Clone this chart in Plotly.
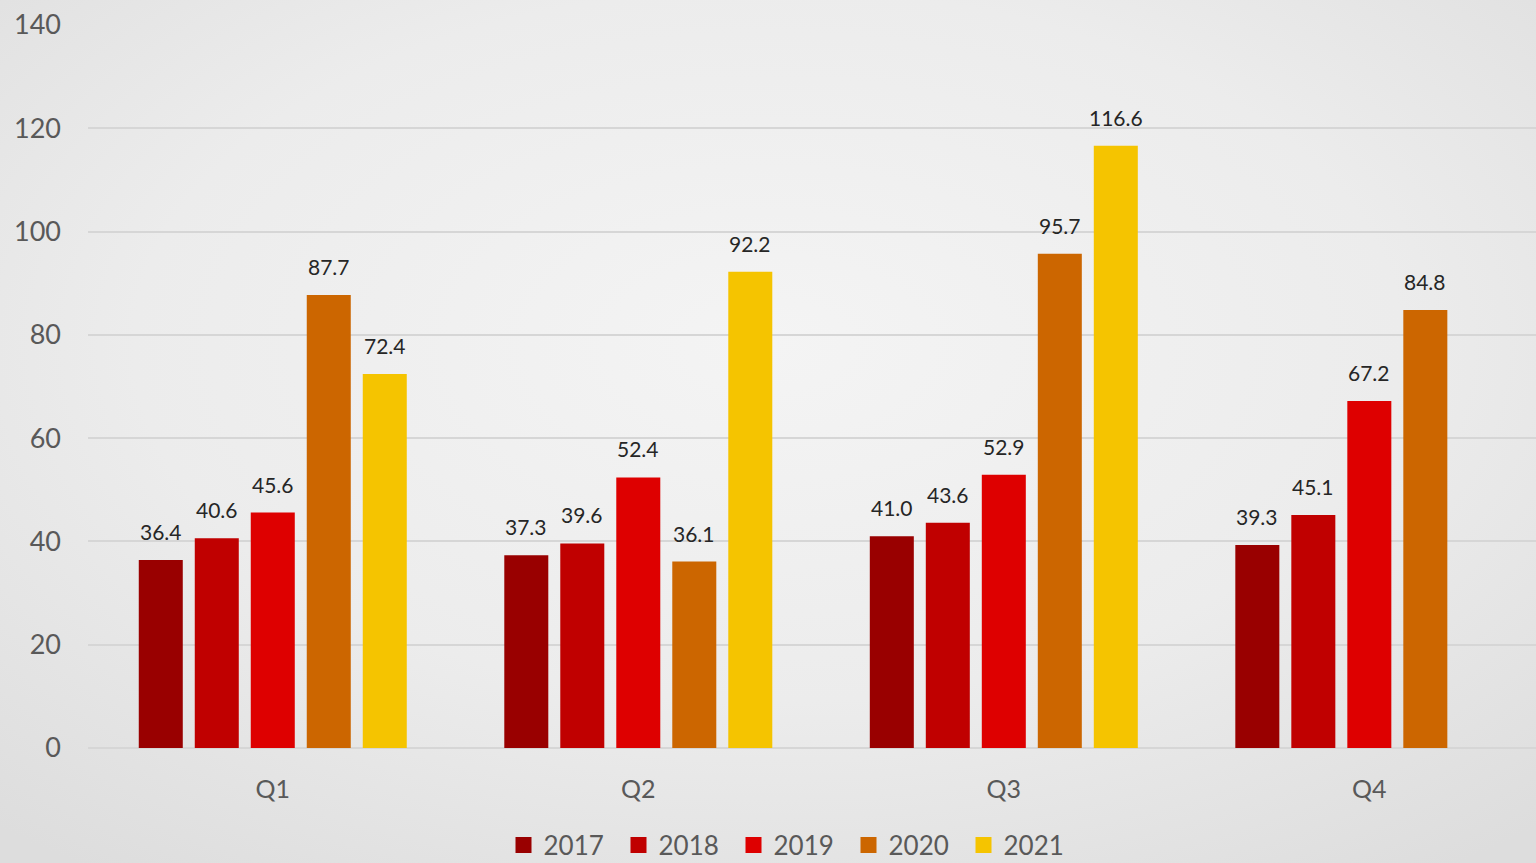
import base64
import plotly.graph_objects as go

# Quarterly values per year
quarters = ["Q1", "Q2", "Q3", "Q4"]
years = ["2017", "2018", "2019", "2020", "2021"]
v2017 = [36.4, 37.3, 41.0, 39.3]
v2018 = [40.6, 39.6, 43.6, 45.1]
v2019 = [45.6, 52.4, 52.9, 67.2]
v2020 = [87.7, 36.1, 95.7, 84.8]
v2021 = [72.4, 92.2, 116.6, None]
series = [v2017, v2018, v2019, v2020, v2021]
colors = ["#990000", "#C00000", "#DE0000", "#CC6600", "#F5C400"]
y_ticks = [0, 20, 40, 60, 80, 100, 120, 140]

W, H = 1536, 863
ML, MR, MT, MB = 88, 0, 25, 115
BARGAP = 0.234
BARGROUPGAP = 0.214
X_RANGE = [-0.5055, 3.456]

fig = go.Figure()

for name, vals, col in zip(years, series, colors):
    fig.add_trace(go.Bar(
        x=quarters, y=vals, name=name, marker=dict(color=col, line=dict(width=0)),
        showlegend=False, hoverinfo="x+y+name",
    ))
    # legend swatch
    fig.add_trace(go.Scatter(
        x=[None], y=[None], mode="markers", name=name,
        marker=dict(symbol="square", size=17, color=col),
    ))

# value labels above each bar, placed at the grouped-bar slot centres
n = len(series)
slot = (1 - BARGAP) / n
for i, vals in enumerate(series):
    offset = -(1 - BARGAP) / 2 + (i + 0.5) * slot
    for qi, v in enumerate(vals):
        if v is None:
            continue
        fig.add_annotation(
            x=qi + offset, y=v, xref="x", yref="y",
            text=f"{v:.1f}", showarrow=False,
            yanchor="bottom", yshift=14,
            font=dict(family="Lato", size=21, color="#262626"),
        )

# soft radial background
svg = (
    f'<svg xmlns="http://www.w3.org/2000/svg" width="{W}" height="{H}" '
    f'viewBox="0 0 {W} {H}" preserveAspectRatio="none">'
    '<defs><radialGradient id="g" cx="50%" cy="40%" r="75%">'
    '<stop offset="0%" stop-color="#F4F4F4"/>'
    '<stop offset="55%" stop-color="#ECECEC"/>'
    '<stop offset="100%" stop-color="#DDDDDD"/>'
    '</radialGradient></defs>'
    f'<rect width="{W}" height="{H}" fill="url(#g)"/></svg>'
)
bg_src = "data:image/svg+xml;base64," + base64.b64encode(svg.encode()).decode()
pw, ph = W - ML - MR, H - MT - MB

fig.update_layout(
    width=W, height=H,
    margin=dict(l=ML, r=MR, t=MT, b=MB, pad=0, autoexpand=False),
    barmode="group", bargap=BARGAP, bargroupgap=BARGROUPGAP,
    paper_bgcolor="#E4E4E4", plot_bgcolor="rgba(0,0,0,0)",
    font=dict(family="Lato", color="#595959"),
    images=[dict(
        source=bg_src, xref="paper", yref="paper",
        x=-ML / pw, y=1 + MT / ph, sizex=W / pw, sizey=H / ph,
        xanchor="left", yanchor="top", sizing="stretch", layer="below",
    )],
    xaxis=dict(
        range=X_RANGE, showgrid=False, zeroline=False, showline=False,
        tickfont=dict(size=25, color="#595959"), ticks="", ticklabelstandoff=24,
    ),
    yaxis=dict(
        range=[0, 140], tickvals=y_ticks, showgrid=True, gridcolor="#D6D6D6", gridwidth=1.5,
        zeroline=True, zerolinecolor="#D6D6D6", zerolinewidth=1.5, showline=False,
        tickfont=dict(size=27, color="#595959"), ticks="", ticklabelstandoff=26,
    ),
    legend=dict(
        orientation="h", x=(791 - ML) / pw, xanchor="center",
        y=-(845 - (H - MB)) / ph, yanchor="middle",
        font=dict(size=26, color="#595959"), bgcolor="rgba(0,0,0,0)",
        entrywidth=70, itemsizing="trace",
    ),
)

fig.write_html("out.html")
